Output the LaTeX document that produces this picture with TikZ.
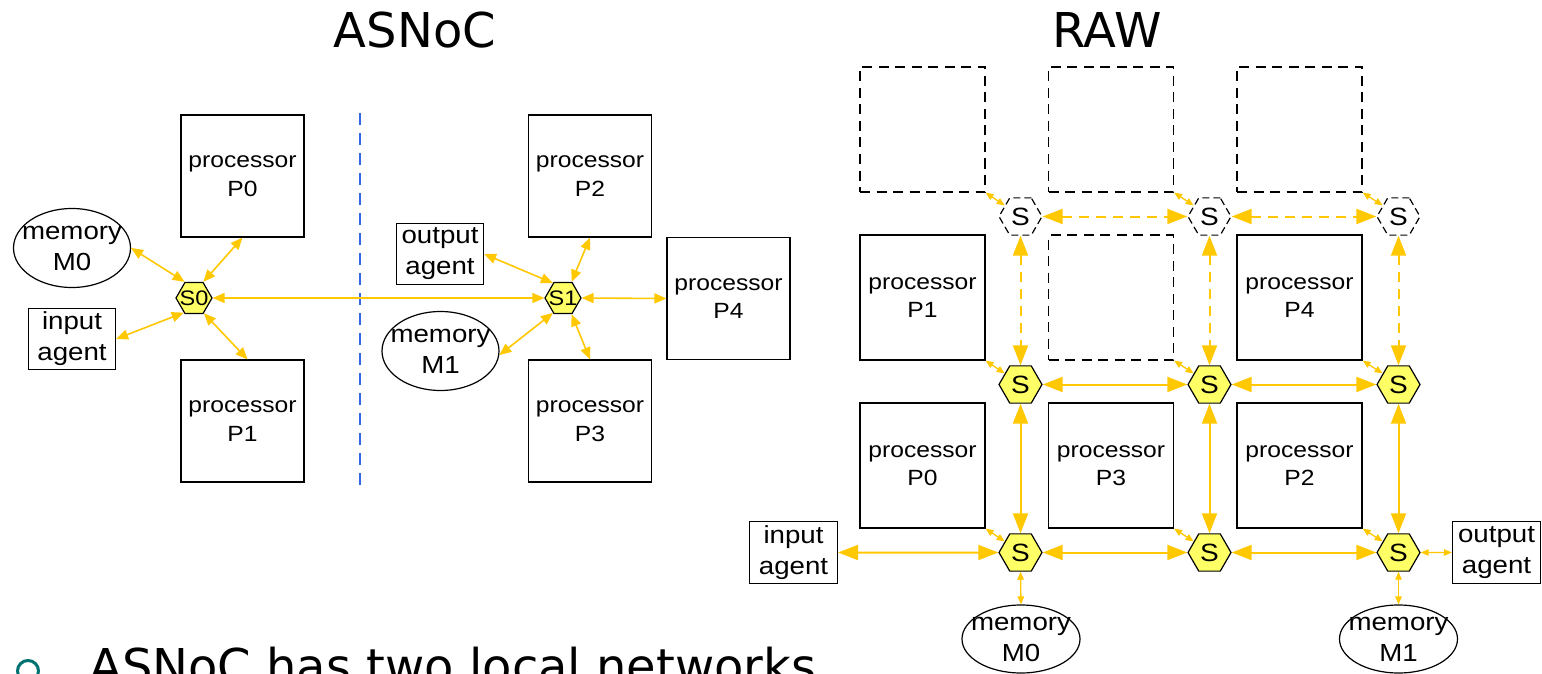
\documentclass[tikz,border=0pt]{standalone}
\usepackage{fontspec}
\usetikzlibrary{shapes.geometric,arrows.meta}
\newfontfamily\labfont[FakeStretch=1.12]{Liberation Sans}
\newfontfamily\headfont{DejaVu Sans}
\definecolor{linkgold}{RGB}{255,200,0}
\definecolor{hexfill}{RGB}{255,255,102}
\definecolor{sepblue}{RGB}{51,102,230}
\definecolor{bulletteal}{RGB}{0,112,112}
\newcommand{\procfont}{\labfont\fontsize{22}{28.5}\selectfont}
\newcommand{\agentfont}{\labfont\fontsize{24.7}{31}\selectfont}

\begin{document}
\begin{tikzpicture}[x=1pt,y=-1pt,
  procbox/.style={draw, line width=1.2pt, inner sep=0pt, align=center, font=\procfont,
    minimum width=123pt, minimum height=122pt},
  rawbox/.style={procbox, minimum width=125pt, minimum height=125pt},
  ghostbox/.style={rawbox, dash pattern=on 10pt off 6.5pt},
  agentbox/.style={draw, line width=1.2pt, inner sep=0pt, align=center, font=\agentfont,
    minimum width=87pt, minimum height=61pt},
  memnode/.style={draw, ellipse, line width=1.2pt, inner sep=0pt,
    minimum width=117pt, minimum height=79pt},
  rawmem/.style={memnode, minimum width=118pt, minimum height=68pt},
  memtext/.style={align=center, font=\agentfont},
  hexnode/.style={regular polygon, regular polygon sides=6, draw, fill=hexfill,
    line width=1.2pt, inner sep=0pt},
  smallhex/.style={hexnode, minimum size=36pt},
  rawhex/.style={hexnode, minimum size=43pt, font=\labfont\fontsize{25}{30}\selectfont},
  ghosthex/.style={rawhex, fill=none, dash pattern=on 7pt off 4pt},
  hextext/.style={font=\labfont\fontsize{21}{25}\selectfont},
  title/.style={anchor=base, font=\headfont\fontsize{48}{58}\selectfont},
  sm/.style={draw=linkgold, line width=1.6pt,
    {Triangle[length=12pt,width=10pt]}-{Triangle[length=12pt,width=10pt]}},
  lg/.style={draw=linkgold, line width=2pt,
    {Triangle[length=20pt,width=15pt]}-{Triangle[length=20pt,width=15pt]}},
  lgdash/.style={lg, dash pattern=on 10pt off 7pt},
  tn/.style={draw=linkgold, line width=1.3pt,
    {Triangle[length=8pt,width=6.5pt]}-{Triangle[length=8pt,width=6.5pt]}},
]
\clip (0,0) rectangle (1542,674);
\fill[white] (0,0) rectangle (1542,674);

% ---------- headings ----------
\node[title] (hasnoc) at (415,48) {ASNoC};
\node[title] (hraw) at (1107,48) {RAW};

% ---------- ASNoC ----------
\node[procbox] (lp0) at (242.5,176) {processor\\P0};
\node[procbox] (lp1) at (242.5,421) {processor\\P1};
\node[procbox] (lp2) at (590,176) {processor\\P2};
\node[procbox] (lp3) at (590,421) {processor\\P3};
\node[procbox] (lp4) at (728.5,298.5) {processor\\P4};
\node[memnode, label={[memtext, name=lm0t]center:memory\\M0}] (lm0) at (72,248) {};
\node[memnode, label={[memtext, name=lm1t]center:memory\\M1}] (lm1) at (440.5,351) {};
\node[agentbox] (lin) at (72,339) {input\\agent};
\node[agentbox] (lout) at (440,254) {output\\agent};
\node[smallhex, label={[hextext, name=s0t]center:S0}] (s0) at (194,298) {};
\node[smallhex, label={[hextext, name=s1t]center:S1}] (s1) at (563,298) {};

% separation of the two local networks
\draw[sepblue, line width=2.2pt, dash pattern=on 12pt off 8pt] (360,113) -- (360,485);

\draw[sm] (lm0.east) -- (s0.120);
\draw[sm] (lp0.south) -- (s0.60);
\draw[sm] (s0.-57) -- ([xshift=5pt]lp1.north);
\draw[sm] (lin.east) -- (s0.-125);
\draw[sm] (s0.0) -- (s1.180);
\draw[sm] (lout.east) -- (s1.124);
\draw[sm] (lp2.south) -- (s1.62);
\draw[sm] (s1.-62) -- (lp3.north);
\draw[sm] (lm1.-4) -- (s1.-124);
\draw[sm] (s1.0) -- (lp4.west);

% ---------- RAW ----------
\node[ghostbox] (d1) at (922.5,129.5) {};
\node[ghostbox] (d2) at (1111,129.5) {};
\node[ghostbox] (d3) at (1299.5,129.5) {};
\node[rawbox] (rp1) at (922.5,297.5) {processor\\P1};
\node[ghostbox] (d4) at (1111,297.5) {};
\node[rawbox] (rp4) at (1299.5,297.5) {processor\\P4};
\node[rawbox] (rp0) at (922.5,465.5) {processor\\P0};
\node[rawbox] (rp3) at (1111,465.5) {processor\\P3};
\node[rawbox] (rp2) at (1299.5,465.5) {processor\\P2};

\node[ghosthex] (t1) at (1020.5,216.5) {S};
\node[ghosthex] (t2) at (1209.5,216.5) {S};
\node[ghosthex] (t3) at (1398.5,216.5) {S};
\node[rawhex] (m1) at (1020.5,384.5) {S};
\node[rawhex] (m2) at (1209.5,384.5) {S};
\node[rawhex] (m3) at (1398.5,384.5) {S};
\node[rawhex] (b1) at (1020.5,552.5) {S};
\node[rawhex] (b2) at (1209.5,552.5) {S};
\node[rawhex] (b3) at (1398.5,552.5) {S};

\node[agentbox, minimum width=88pt, minimum height=62pt] (rin) at (793.5,552.5) {input\\agent};
\node[agentbox, minimum width=88pt, minimum height=62pt] (rout) at (1496.5,552.5) {output\\agent};
\node[rawmem, label={[memtext, name=rm0t]center:memory\\M0}] (rm0) at (1021,639) {};
\node[rawmem, label={[memtext, name=rm1t]center:memory\\M1}] (rm1) at (1398.5,639) {};

% links of the unused top row
\draw[lgdash] (t1.0) -- (t2.180);
\draw[lgdash] (t2.0) -- (t3.180);
\draw[lgdash] (t1.270) -- (m1.90);
\draw[lgdash] (t2.270) -- (m2.90);
\draw[lgdash] (t3.270) -- (m3.90);

% mesh links
\draw[lg] (m1.0) -- (m2.180);
\draw[lg] (m2.0) -- (m3.180);
\draw[lg] (m1.270) -- (b1.90);
\draw[lg] (m2.270) -- (b2.90);
\draw[lg] (m3.270) -- (b3.90);
\draw[lg] (rin.east) -- (b1.180);
\draw[lg] (b1.0) -- (b2.180);
\draw[lg] (b2.0) -- (b3.180);
\draw[tn] (b3.0) -- (rout.west);
\draw[tn] (b1.270) -- (rm0.north);
\draw[tn] (b3.270) -- (rm1.north);

% tile-to-switch links
\draw[tn] (d1.south east) -- (t1.145);
\draw[tn] (d2.south east) -- (t2.145);
\draw[tn] (d3.south east) -- (t3.145);
\draw[tn] (rp1.south east) -- (m1.145);
\draw[tn] (d4.south east) -- (m2.145);
\draw[tn] (rp4.south east) -- (m3.145);
\draw[tn] (rp0.south east) -- (b1.145);
\draw[tn] (rp3.south east) -- (b2.145);
\draw[tn] (rp2.south east) -- (b3.145);

% ---------- bullet line ----------
\draw[bulletteal, line width=3pt] (28,671) circle[radius=10.5pt];
\node[anchor=base west, inner sep=0pt, font=\headfont\fontsize{48}{58}\selectfont] (bline) at (89,683) {ASNoC has two local networks};
\end{tikzpicture}
\end{document}
